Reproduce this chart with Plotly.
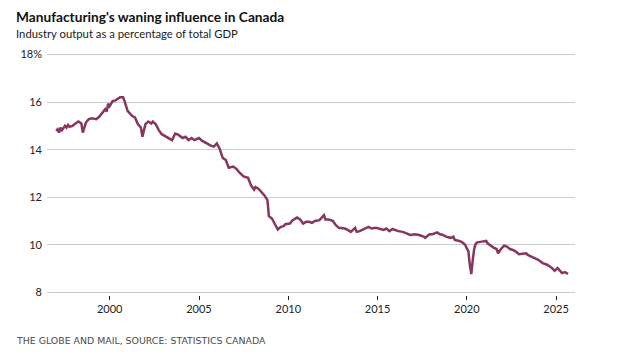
import plotly.graph_objects as go

dates = [
    "1997-01", "1997-02", "1997-03", "1997-04", "1997-05", "1997-07", "1997-08", "1997-09", "1997-10", "1997-12",
    "1998-02", "1998-04", "1998-06", "1998-07", "1998-09", "1998-11",
    "1999-01", "1999-04", "1999-06", "1999-08", "1999-10", "1999-11", "1999-12",
    "2000-01", "2000-03", "2000-05", "2000-07", "2000-08", "2000-10", "2000-11",
    "2001-01", "2001-04", "2001-06", "2001-08", "2001-10", "2001-11",
    "2002-01", "2002-03", "2002-05", "2002-06", "2002-08", "2002-10", "2002-12",
    "2003-03", "2003-05", "2003-07", "2003-09", "2003-11",
    "2004-02", "2004-04", "2004-06", "2004-08", "2004-10",
    "2005-01", "2005-03", "2005-06", "2005-09", "2005-11",
    "2006-01", "2006-03", "2006-05", "2006-07", "2006-09", "2006-12",
    "2007-02", "2007-04", "2007-05", "2007-07", "2007-10", "2007-12",
    "2008-02", "2008-03", "2008-05", "2008-07", "2008-09", "2008-11", "2008-12",
    "2009-02", "2009-04", "2009-06", "2009-08", "2009-10", "2009-11",
    "2010-02", "2010-04", "2010-07", "2010-09", "2010-11",
    "2011-01", "2011-03", "2011-05", "2011-07", "2011-10",
    "2012-01", "2012-02", "2012-04", "2012-07", "2012-09", "2012-11",
    "2013-03", "2013-05", "2013-07", "2013-10", "2013-11",
    "2014-01", "2014-04", "2014-07", "2014-09", "2014-12",
    "2015-03", "2015-05", "2015-07", "2015-09", "2015-11",
    "2016-03", "2016-06", "2016-09", "2016-11",
    "2017-02", "2017-05", "2017-08", "2017-09", "2017-12",
    "2018-02", "2018-05", "2018-07", "2018-09", "2018-11",
    "2019-02", "2019-04", "2019-05", "2019-08", "2019-10", "2019-12",
    "2020-01", "2020-02", "2020-03", "2020-04", "2020-05", "2020-06", "2020-07", "2020-08", "2020-11",
    "2021-02", "2021-03", "2021-05", "2021-07", "2021-09", "2021-10", "2021-12",
    "2022-02", "2022-04", "2022-06", "2022-08", "2022-10", "2022-12",
    "2023-03", "2023-05", "2023-06", "2023-10",
    "2024-01", "2024-04", "2024-07", "2024-10", "2024-12",
    "2025-02", "2025-05", "2025-07", "2025-09",
]
share = [
    14.79, 14.86, 14.72, 14.93, 14.82, 15.00, 14.93, 15.04, 14.96, 15.00,
    15.10, 15.18, 15.10, 14.72, 15.14, 15.28,
    15.32, 15.28, 15.38, 15.55, 15.70, 15.60, 15.93,
    15.83, 16.04, 16.07, 16.15, 16.20, 16.20, 16.04,
    15.63, 15.42, 15.35, 15.07, 14.93, 14.54,
    15.07, 15.18, 15.10, 15.18, 15.07, 14.82, 14.65,
    14.54, 14.49, 14.40, 14.68, 14.63,
    14.49, 14.54, 14.40, 14.49, 14.40,
    14.49, 14.38, 14.26, 14.17, 14.13,
    14.26, 14.03, 13.65, 13.57, 13.24, 13.29,
    13.20, 13.06, 13.01, 12.88, 12.82, 12.50,
    12.32, 12.43, 12.36, 12.22, 12.08, 11.88, 11.21,
    11.11, 10.88, 10.65, 10.76, 10.79, 10.87,
    10.90, 11.04, 11.15, 11.07, 10.90,
    10.97, 10.97, 10.93, 11.01, 11.04,
    11.25, 11.07, 11.07, 11.01, 10.83, 10.72,
    10.69, 10.63, 10.55, 10.72, 10.55,
    10.58, 10.67, 10.76, 10.69, 10.72,
    10.67, 10.63, 10.69, 10.58, 10.67,
    10.58, 10.55, 10.49, 10.42,
    10.45, 10.42, 10.35, 10.30, 10.45,
    10.45, 10.53, 10.45, 10.42, 10.35,
    10.30, 10.35, 10.21, 10.17, 10.11, 10.00,
    9.86, 9.75, 9.20, 8.78, 9.35, 9.85, 10.05, 10.11, 10.14,
    10.17, 10.07, 9.97, 9.89, 9.83, 9.65, 9.83,
    9.97, 9.93, 9.83, 9.79, 9.72, 9.61,
    9.65, 9.65, 9.58, 9.47,
    9.38, 9.24, 9.17, 9.05, 8.92,
    9.03, 8.82, 8.86, 8.78,
]

y_ticks = [8, 10, 12, 14, 16, 18]
y_tick_labels = ["8", "10", "12", "14", "16", "18%"]
x_ticks = ["2000-01-01", "2005-01-01", "2010-01-01", "2015-01-01", "2020-01-01", "2025-01-01"]
x_tick_labels = ["2000", "2005", "2010", "2015", "2020", "2025"]

title = "Manufacturing's waning influence in Canada"
subtitle = "Industry output as a percentage of total GDP"
source = "THE GLOBE AND MAIL, SOURCE: STATISTICS CANADA"

fig = go.Figure()
fig.add_trace(go.Scatter(
    x=dates, y=share, mode="lines",
    line=dict(color="#87375f", width=2.5),
    hoverinfo="skip", showlegend=False,
))

fig.update_layout(
    width=613, height=351,
    margin=dict(l=36, r=46, t=44, b=64),
    paper_bgcolor="white", plot_bgcolor="white",
    font=dict(family="Lato", size=11, color="#222"),
    xaxis=dict(
        type="date",
        range=["1996-06-28", "2026-01-22"],
        tickvals=x_ticks, ticktext=x_tick_labels,
        showgrid=False, zeroline=False, showline=False,
        ticks="outside", ticklen=4, tickwidth=1, tickcolor="#222",
        tickfont=dict(family="Lato", size=11, color="#222"),
    ),
    yaxis=dict(
        range=[7.9, 18.1],
        tickvals=y_ticks, ticktext=y_tick_labels,
        showgrid=True, gridcolor="#cccccc", gridwidth=1,
        zeroline=False, showline=False, ticks="",
        ticklabelstandoff=4,
        tickfont=dict(family="Lato", size=11, color="#222"),
    ),
    annotations=[
        dict(text="<b>" + title + "</b>", xref="paper", yref="paper",
             x=-0.0622, y=1.1453, xanchor="left", yanchor="middle", showarrow=False,
             font=dict(family="Lato", size=13.7, color="#111")),
        dict(text=subtitle, xref="paper", yref="paper",
             x=-0.0622, y=1.0745, xanchor="left", yanchor="middle", showarrow=False,
             font=dict(family="Lato", size=11.3, color="#222")),
        dict(text=source, xref="paper", yref="paper",
             x=-0.0622, y=-0.1868, xanchor="left", yanchor="middle", showarrow=False,
             font=dict(family="DejaVu Sans", size=9.4, color="#4a4a4a")),
    ],
)

fig.write_html("out.html")
